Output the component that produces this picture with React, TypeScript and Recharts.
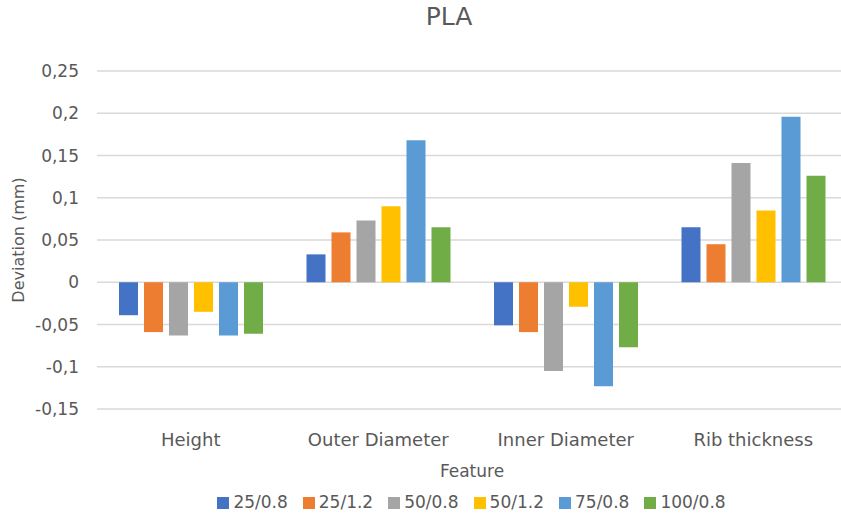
import React from 'react';
import { BarChart, Bar, XAxis, YAxis, CartesianGrid, Legend } from 'recharts';

const categories = ['Height', 'Outer Diameter', 'Inner Diameter', 'Rib thickness'];

const s25_08 = [-0.039, 0.033, -0.051, 0.065];
const s25_12 = [-0.059, 0.059, -0.059, 0.045];
const s50_08 = [-0.063, 0.073, -0.105, 0.141];
const s50_12 = [-0.035, 0.09, -0.029, 0.085];
const s75_08 = [-0.063, 0.168, -0.123, 0.196];
const s100_08 = [-0.061, 0.065, -0.077, 0.126];

const yTicks = [-0.15, -0.1, -0.05, 0, 0.05, 0.1, 0.15, 0.2, 0.25];

const series = [
  { key: '25/0.8', values: s25_08, color: '#4472C4' },
  { key: '25/1.2', values: s25_12, color: '#ED7D31' },
  { key: '50/0.8', values: s50_08, color: '#A5A5A5' },
  { key: '50/1.2', values: s50_12, color: '#FFC000' },
  { key: '75/0.8', values: s75_08, color: '#5B9BD5' },
  { key: '100/0.8', values: s100_08, color: '#70AD47' },
];

const data = categories.map((feature, i) => {
  const row: Record<string, string | number> = { feature };
  series.forEach((s) => {
    row[s.key] = s.values[i];
  });
  return row;
});

const textColor = '#595959';
const fmt = (v: number) => String(Math.round(v * 100) / 100).replace('.', ',');
const legendOrder = (item: any) => series.findIndex((s) => s.key === item.value);

export default function App() {
  return (
    <div
      style={{
        position: 'absolute',
        left: 0,
        top: 0,
        width: 841,
        height: 517,
        overflow: 'hidden',
        background: '#fff',
        fontFamily: '"DejaVu Sans", sans-serif',
      }}
    >
      <style>{`.recharts-legend-item { margin-right: 15px !important; }`}</style>
      <div
        style={{
          position: 'absolute',
          left: 0,
          top: 2,
          width: 898,
          textAlign: 'center',
          fontSize: 25,
          color: textColor,
        }}
      >
        PLA
      </div>
      <BarChart
        width={850}
        height={517}
        data={data}
        margin={{ top: 71, right: 3, left: 0, bottom: 38 }}
        barCategoryGap={22}
        barGap={6}
      >
        <CartesianGrid vertical={false} stroke="#d9d9d9" strokeWidth={1.3} />
        <XAxis
          dataKey="feature"
          height={70}
          axisLine={false}
          tickLine={false}
          tickSize={0}
          tickMargin={24}
          tick={{ fill: textColor, fontSize: 18 }}
          label={{ value: 'Feature', position: 'insideBottom', offset: 2, fill: textColor, fontSize: 17 }}
        />
        <YAxis
          width={97}
          domain={[-0.15, 0.25]}
          ticks={yTicks}
          interval={0}
          axisLine={false}
          tickLine={false}
          tickSize={0}
          tickMargin={18}
          tickFormatter={fmt}
          tick={{ fill: textColor, fontSize: 17 }}
          label={{
            value: 'Deviation (mm)',
            angle: -90,
            position: 'insideLeft',
            offset: 18,
            fill: textColor,
            fontSize: 16,
            style: { textAnchor: 'middle' },
          }}
        />
        <Legend
          layout="horizontal"
          verticalAlign="middle"
          align="center"
          iconType="square"
          iconSize={12}
          itemSorter={legendOrder}
          wrapperStyle={{ top: 492, left: 100, width: 758, fontSize: 17 }}
          formatter={(value: string) => <span style={{ color: textColor }}>{value}</span>}
        />
        {series.map((s) => (
          <Bar key={s.key} dataKey={s.key} name={s.key} fill={s.color} isAnimationActive={false} />
        ))}
      </BarChart>
    </div>
  );
}
